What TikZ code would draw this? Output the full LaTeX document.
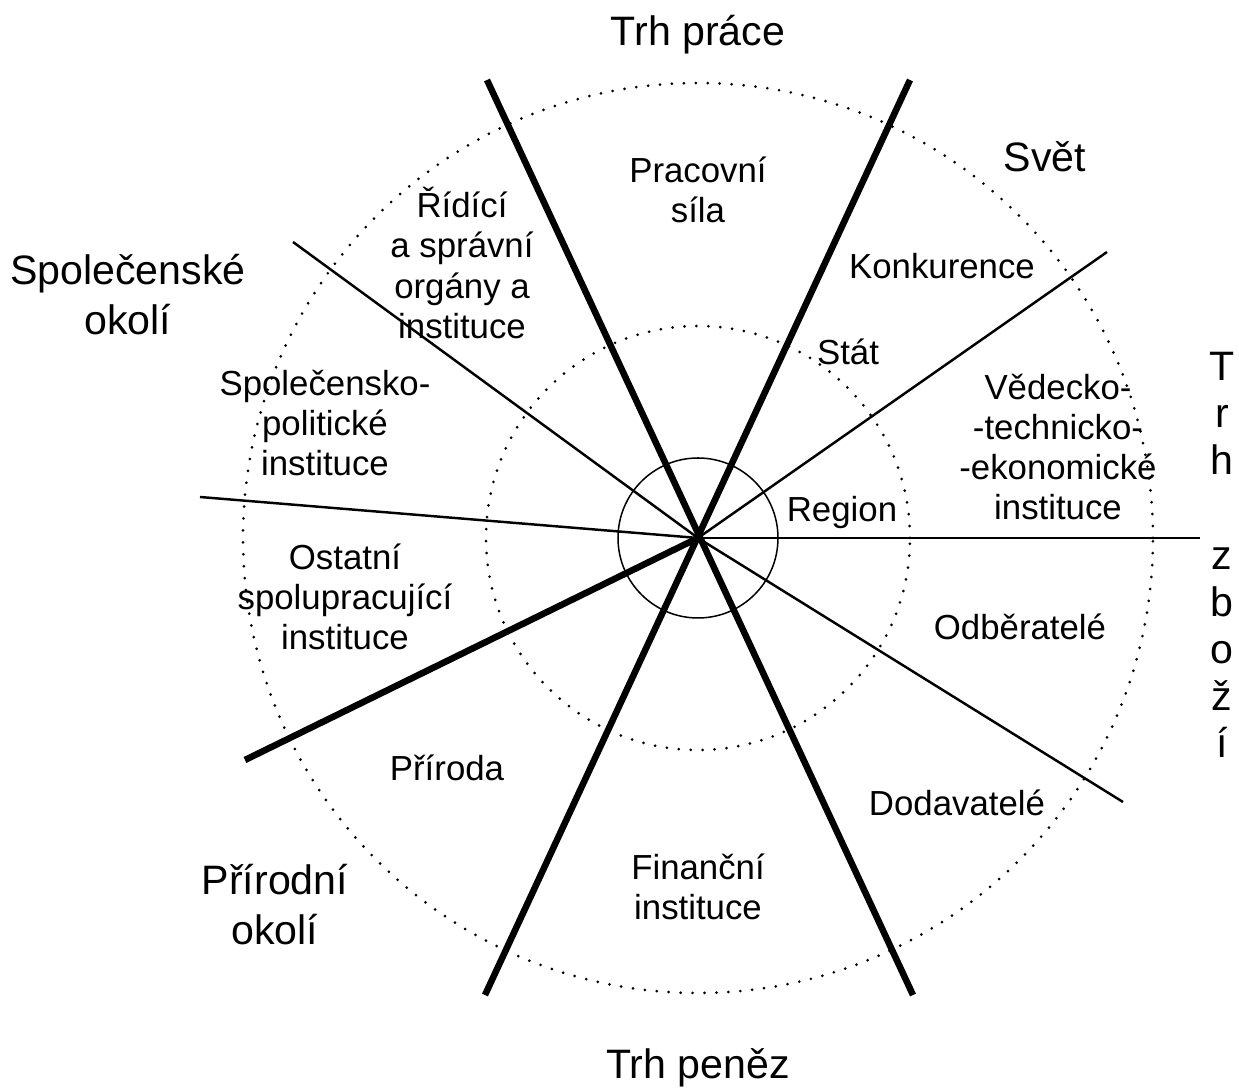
\documentclass[tikz,border=0pt]{standalone}
\usepackage{fontspec}
\setmainfont{Liberation Sans}
\usetikzlibrary{positioning}

\begin{document}
\begin{tikzpicture}[
    x=0.1mm, y=-0.1mm,
    sector/.style={align=center, font=\fontsize{9.9}{11.4}\selectfont},
    market/.style={align=center, font=\fontsize{11.7}{14.2}\selectfont},
    ring/.style={line width=0.85pt, line cap=round, dash pattern=on 0pt off 3.4pt},
    border/.style={line width=1.85pt},
    spoke/.style={line width=0.7pt},
]
\useasboundingbox (0,0) rectangle (1239,1088);
\coordinate (c) at (698,538);

% Circles
\draw[line width=0.43pt] (c) circle[radius=8mm];
\draw[ring] (c) circle[radius=21.2mm];
\draw[ring] (c) circle[radius=45.5mm];

% Thin spokes
\coordinate (tl) at (293,242);
\coordinate (tr) at (1107,252);
\coordinate (ml) at (200,497);
\coordinate (mr) at (1200,538);
\coordinate (br) at (1123,802);
\foreach \e in {tl,tr,ml,mr,br}
    \draw[spoke] (c) -- (\e);

% Thick borders between the markets
\coordinate (nw) at (487,80);
\coordinate (se) at (913,995);
\coordinate (ne) at (910,80);
\coordinate (sw) at (485,995);
\coordinate (wl) at (245,760);
\draw[border] (nw) -- (se);
\draw[border] (ne) -- (sw);
\draw[border] (c) -- (wl);

% Outer labels
\node[market] (prace) at (698,35) {Trh práce};
\node[market] (svet) at (1045,157) {Svět};
\node[market] (spol) at (128,295) {Společenské\\okolí};
\node[align=center, font=\fontsize{11.7}{13.4}\selectfont] (zbozi) at (1222,555) {T\\r\\h\\[13.4pt]z\\b\\o\\ž\\í};
\node[market] (prir) at (275,905) {Přírodní\\okolí};
\node[market] (penez) at (698,1068) {Trh peněz};

% Sectors
\node[sector] (sila) at (698,190) {Pracovní\\síla};
\node[sector] (konk) at (942,266) {Konkurence};
\node[sector] (ridici) at (462,263) {Řídící\\a správní\\orgány a\\instituce};
\node[sector] (stat) at (848,352) {Stát};
\node[sector] (polit) at (325,423) {Společensko-\\politické\\instituce};
\node[sector] (vedec) at (1058,447) {Vědecko-\\-technicko-\\-ekonomické\\instituce};
\node[sector] (region) at (842,513) {Region};
\node[sector] (ostat) at (345,597) {Ostatní\\spolupracující\\instituce};
\node[sector] (odber) at (1020,627) {Odběratelé};
\node[sector] (priroda) at (447,768) {Příroda};
\node[sector] (dodav) at (957,803) {Dodavatelé};
\node[sector] (financ) at (698,887) {Finanční\\instituce};
\end{tikzpicture}
\end{document}
